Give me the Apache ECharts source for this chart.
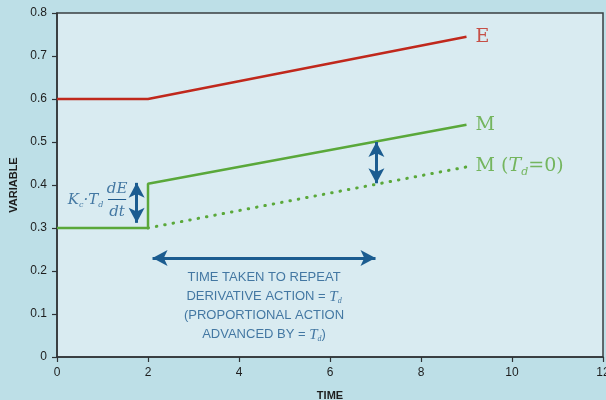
<!DOCTYPE html>
<html>
<head>
<meta charset="utf-8">
<script src="https://cdn.jsdelivr.net/npm/echarts@6/dist/echarts.min.js"></script>
<style>
  html, body { margin: 0; padding: 0; background: #bddfe7; }
  #chart { width: 606px; height: 400px; }
</style>
</head>
<body>
<div id="chart"></div>
<script>
// curves: [time, value]
const errorE = [[0, 0.6], [2, 0.6], [9, 0.745]];
const outputM = [[0, 0.3], [2, 0.3], [2, 0.403], [9, 0.54]];
const outputM0 = [[2, 0.3], [9, 0.442]];

// double arrows: [from, to]
const arrows = [
  [[2.1, 0.23], [7.0, 0.23]],
  [[1.75, 0.405], [1.75, 0.312]],
  [[7.02, 0.5], [7.02, 0.404]],
];

const xTicks = { min: 0, max: 12, interval: 2 };
const yTicks = { min: 0, max: 0.8, interval: 0.1 };

const RED = '#c0281c';
const GREEN = '#5aa83a';
const BLUE = '#1b5c90';
const TEXT_BLUE = '#1d5a8e';
const SERIF = 'DejaVu Serif';

const chart = echarts.init(document.getElementById('chart'));

const labelPoint = (x, y, text, label) => ({
  value: [x, y],
  label: Object.assign({ show: true, formatter: text }, label),
});

chart.setOption({
  backgroundColor: '#bddfe7',
  animation: false,
  grid: {
    left: 57, right: 3, top: 13, bottom: 43,
    outerBoundsMode: 'none',
    show: true,
    backgroundColor: '#d9ebf1',
    borderColor: '#3a3f42',
    borderWidth: 1.5,
  },
  xAxis: {
    type: 'value',
    min: xTicks.min, max: xTicks.max, interval: xTicks.interval,
    name: 'TIME',
    nameLocation: 'middle',
    nameGap: 33,
    nameTextStyle: { color: '#1e1e1e', fontSize: 11, fontWeight: 'bold', fontFamily: 'Liberation Sans' },
    axisLine: { lineStyle: { color: '#2f3336', width: 1.5 } },
    axisTick: { show: true, length: 5, lineStyle: { color: '#2f3336', width: 1.2 } },
    axisLabel: { color: '#1e1e1e', fontSize: 12, fontFamily: 'Liberation Sans', margin: 10 },
    splitLine: { show: false },
  },
  yAxis: {
    type: 'value',
    min: yTicks.min, max: yTicks.max, interval: yTicks.interval,
    name: 'VARIABLE',
    nameLocation: 'middle',
    nameGap: 38,
    nameTextStyle: { color: '#1e1e1e', fontSize: 11, fontWeight: 'bold', fontFamily: 'Liberation Sans' },
    axisLine: { show: true, lineStyle: { color: '#2f3336', width: 1.5 } },
    axisTick: { show: true, length: 5, lineStyle: { color: '#2f3336', width: 1.2 } },
    axisLabel: { color: '#1e1e1e', fontSize: 12, fontFamily: 'Liberation Sans', margin: 10 },
    splitLine: { show: false },
  },
  series: [
    {
      name: 'E', type: 'line', data: errorE, symbol: 'none',
      lineStyle: { color: RED, width: 2.5 },
    },
    {
      name: 'M', type: 'line', data: outputM, symbol: 'none',
      lineStyle: { color: GREEN, width: 2.5 },
    },
    {
      name: 'M0', type: 'line', data: outputM0, symbol: 'none',
      lineStyle: { color: GREEN, width: 3, type: [0.5, 8], cap: 'round' },
    },
    {
      name: 'arrows', type: 'line', data: [], symbol: 'none',
      markLine: {
        silent: true,
        symbol: ['arrow', 'arrow'],
        symbolSize: [12, 15],
        label: { show: false },
        lineStyle: { color: BLUE, width: 3, type: 'solid' },
        data: arrows.map(([a, b]) => [{ coord: a }, { coord: b }]),
      },
    },
    {
      name: 'fractionBar', type: 'line', data: [], symbol: 'none',
      markLine: {
        silent: true, symbol: 'none',
        label: { show: false },
        lineStyle: { color: TEXT_BLUE, width: 1, type: 'solid' },
        data: [[{ coord: [1.12, 0.366] }, { coord: [1.52, 0.366] }]],
      },
    },
    {
      name: 'labels', type: 'scatter', symbolSize: 0, silent: true,
      data: [
        labelPoint(9.2, 0.745, 'E', {
          position: 'right', distance: 0,
          color: RED, fontFamily: SERIF, fontSize: 19,
        }),
        labelPoint(9.2, 0.54, 'M', {
          position: 'right', distance: 0,
          color: GREEN, fontFamily: SERIF, fontSize: 19,
        }),
        labelPoint(9.2, 0.445, 'M ({t|T}{s|d}=0)', {
          position: 'right', distance: 0,
          color: GREEN, fontFamily: SERIF, fontSize: 19,
          rich: {
            t: { color: GREEN, fontFamily: SERIF, fontSize: 19, fontStyle: 'italic' },
            s: { color: GREEN, fontFamily: SERIF, fontSize: 11, fontStyle: 'italic', padding: [12, 0, 0, 0] },
          },
        }),
        labelPoint(4.55, 0.118,
          'TIME TAKEN TO REPEAT\nDERIVATIVE ACTION = {t|T}{s|d}\n(PROPORTIONAL ACTION\nADVANCED BY = {t|T}{s|d}{n|)}', {
          position: 'inside',
          align: 'center', verticalAlign: 'middle',
          color: TEXT_BLUE, fontFamily: 'Liberation Sans', fontSize: 13, lineHeight: 19,
          rich: {
            n: { color: TEXT_BLUE, fontFamily: 'Liberation Sans', fontSize: 13, lineHeight: 19 },
            t: { color: TEXT_BLUE, fontFamily: 'Liberation Serif', fontSize: 15, fontStyle: 'italic', lineHeight: 19 },
            s: { color: TEXT_BLUE, fontFamily: 'Liberation Serif', fontSize: 8, fontStyle: 'italic', lineHeight: 19, padding: [9, 0, 0, 0] },
          },
        }),
        labelPoint(1.02, 0.365, '{k|K}{s|c}{k|·T}{s|d}', {
          position: 'left', distance: 0,
          color: TEXT_BLUE,
          rich: {
            k: { color: TEXT_BLUE, fontFamily: SERIF, fontSize: 15, fontStyle: 'italic' },
            s: { color: TEXT_BLUE, fontFamily: SERIF, fontSize: 8, fontStyle: 'italic', padding: [10, 0, 0, 0] },
          },
        }),
        labelPoint(1.32, 0.39, 'dE', {
          position: 'inside', align: 'center', verticalAlign: 'middle',
          color: TEXT_BLUE, fontFamily: SERIF, fontSize: 15, fontStyle: 'italic',
        }),
        labelPoint(1.32, 0.338, 'dt', {
          position: 'inside', align: 'center', verticalAlign: 'middle',
          color: TEXT_BLUE, fontFamily: SERIF, fontSize: 15, fontStyle: 'italic',
        }),
      ],
    },
  ],
});
</script>
</body>
</html>
